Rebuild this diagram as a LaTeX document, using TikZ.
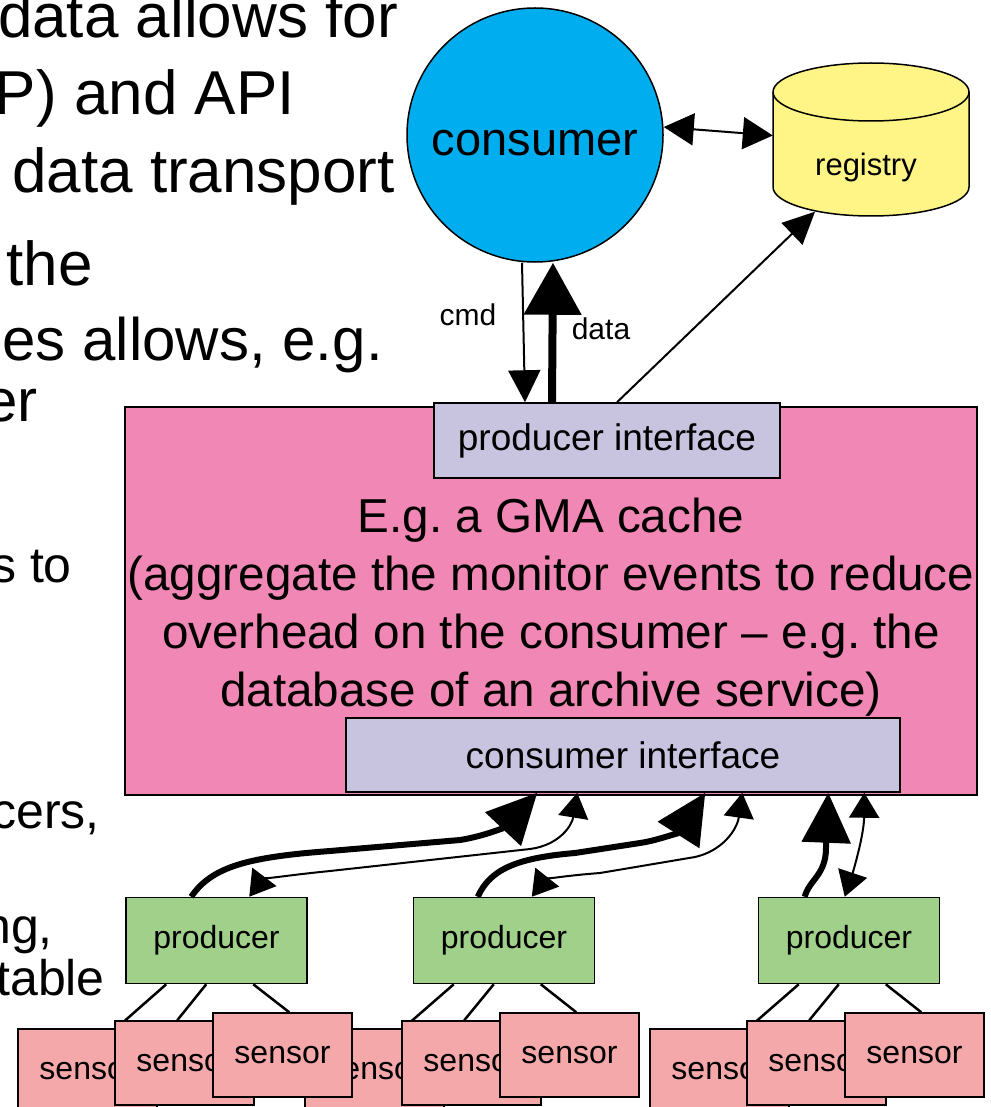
\documentclass[tikz,border=0pt]{standalone}
\usepackage{fontspec}
\setmainfont{Liberation Sans}
\frenchspacing
\usetikzlibrary{arrows.meta,shapes.geometric}
\definecolor{cyanc}{RGB}{0,174,239}
\definecolor{regc}{RGB}{255,245,135}
\definecolor{pinkc}{RGB}{240,135,180}
\definecolor{lavc}{RGB}{200,196,224}
\definecolor{greenc}{RGB}{160,208,138}
\definecolor{sensc}{RGB}{245,168,170}
\tikzset{
  slidebig/.style={anchor=base east, inner sep=0pt, font=\fontsize{62}{74}\selectfont},
  slidemid/.style={anchor=base east, inner sep=0pt, font=\fontsize{60}{70}\selectfont},
  slidesmall/.style={anchor=base east, inner sep=0pt, font=\fontsize{50}{60}\selectfont},
  boxline/.style={draw=black, line width=1.5pt},
  iface/.style={boxline, rectangle, fill=lavc, inner sep=0pt, font=\fontsize{37}{42}\selectfont},
  prodbox/.style={boxline, rectangle, fill=greenc, inner sep=0pt, minimum width=181pt, minimum height=86pt, font=\fontsize{32}{36}\selectfont},
  sensbox/.style={boxline, rectangle, fill=sensc, inner sep=0pt, minimum width=139pt, minimum height=84pt, font=\fontsize{32}{36}\selectfont},
  thinarr/.style={line width=2pt, -{Triangle[length=32pt,width=32pt]}},
  thinboth/.style={line width=2pt, {Triangle[length=25pt,width=30pt]}-{Triangle[length=25pt,width=30pt]}},
  thickarr/.style={line width=6pt, -{Triangle[length=50pt,width=48pt]}},
  sensline/.style={line width=2.5pt},
  lbl/.style={inner sep=0pt, font=\fontsize{30}{36}\selectfont}
}
\begin{document}
\begin{tikzpicture}[x=1pt,y=-1pt]
\useasboundingbox (0,0) rectangle (990,1107);
\clip (0,0) rectangle (990,1107);
\fill[white] (0,0) rectangle (990,1107);

% slide text partly hidden at the left
\node[slidebig] (t1) at (398,38) {data allows for};
\node[slidebig] (t2) at (295,115) {P) and API};
\node[slidebig] (t3) at (395,193) {data transport};
\node[slidebig] (t4) at (93,285) {the};
\node[slidemid] (t5) at (383,360) {es allows, e.g.};
\node[slidemid] (t6) at (38,421) {er};
\node[slidesmall] (t7) at (72,582) {s to};
\node[slidesmall] (t8) at (100,828) {cers,};
\node[slidesmall] (t9) at (53,943) {ng,};
\node[slidesmall] (t10) at (105,995) {table};

% consumer
\node[ellipse, boxline, fill=cyanc, minimum width=256pt, minimum height=254pt, inner sep=0pt,
  label={[font=\fontsize{47}{54}\selectfont, yshift=-8pt]center:consumer}] (cons) at (535,135) {};

% registry cylinder
\fill[regc] (773,92) -- (773,187) arc[start angle=180,end angle=0,x radius=98,y radius=29] -- (969,92) -- cycle;
\draw[line width=1.5pt] (773,92) -- (773,187) arc[start angle=180,end angle=0,x radius=98,y radius=29] -- (969,92);
\filldraw[fill=regc, line width=1.5pt] (871,92) ellipse [x radius=98, y radius=29];
\node[inner sep=0pt, minimum width=196pt, minimum height=154pt] (reg) at (871,139.5) {};
\node[lbl, font=\fontsize{31}{36}\selectfont] (regtxt) at (866,167) {registry};

% cache box
\node[boxline, rectangle, fill=pinkc, minimum width=852pt, minimum height=388pt, inner sep=0pt] (cache) at (551,601) {};
\node[iface, minimum width=346pt, minimum height=75pt] (pi) at (607,440.5) {producer interface};
\node[iface, minimum width=554pt, minimum height=74pt] (ci) at (623,755) {consumer interface};
\node[align=center, inner sep=0pt, font=\fontsize{47.6}{58}\selectfont] (cachetxt) at (551,607)
  {E.g. a GMA cache\\(aggregate the monitor events to reduce\\overhead on the consumer -- e.g. the\\database of an archive service)};

% top connectors
\draw[thinarr] ([xshift=-13pt]cons.south) -- ([xshift=-82pt]pi.north);
\draw[line width=8pt, -{Triangle[length=52pt,width=56pt]}] ([xshift=-55pt]pi.north) -- ([xshift=18pt]cons.south);
\node[lbl] (cmdl) at (468,315) {cmd};
\node[lbl] (datal) at (601,329) {data};
\draw[line width=2pt, {Triangle[length=30pt,width=32pt]}-{Triangle[length=30pt,width=32pt]}] ([yshift=8pt]cons.east) -- ([yshift=4pt]reg.west);
\draw[line width=2pt, -{Triangle[length=32pt,width=30pt]}] ([xshift=10pt]pi.north) -- ([xshift=-56pt,yshift=5pt]reg.south);

% producers
\node[prodbox] (p1) at (216.5,940.5) {producer};
\node[prodbox] (p2) at (504,940.5) {producer};
\node[prodbox] (p3) at (849,940.5) {producer};

% sensors (back row first)
\node[sensbox] (s1a) at (87.5,1071) {sensor};
\node[sensbox] (s2a) at (374.5,1071) {sensor};
\node[sensbox] (s3a) at (719.5,1071) {sensor};
\foreach \p/\g in {p1/1,p2/2,p3/3}{
  \draw[sensline] ([xshift=41pt]\p.south west) -- ([xshift=99pt]s\g a.north west);
}
\node[sensbox] (s1b) at (184.5,1063) {sensor};
\node[sensbox] (s1c) at (282.5,1055) {sensor};
\node[sensbox] (s2b) at (471.5,1063) {sensor};
\node[sensbox] (s2c) at (569.5,1055) {sensor};
\node[sensbox] (s3b) at (816.5,1063) {sensor};
\node[sensbox] (s3c) at (914.5,1055) {sensor};
\foreach \p/\g in {p1/1,p2/2,p3/3}{
  \draw[sensline] ([xshift=81pt]\p.south west) -- ([xshift=63pt]s\g b.north west);
  \draw[sensline] ([xshift=128pt]\p.south west) -- ([xshift=77pt]s\g c.north west);
}

% producer -> consumer interface
\draw[thickarr] ([xshift=66pt]p1.north west) .. controls (212,866) and (250,857) .. (330,851) -- (460,840) .. controls (485,836) and (505,827) .. ([xshift=192pt]ci.south west);
\draw[thinboth] ([xshift=124pt]p1.north west) .. controls (262,880) and (280,876) .. (330,871) -- (530,849) .. controls (560,845) and (572,825) .. ([xshift=232pt]ci.south west);
\draw[thickarr] ([xshift=65pt]p2.north west) .. controls (490,870) and (515,858) .. (575,853) -- (640,843) .. controls (660,840) and (681,831) .. ([xshift=360pt]ci.south west);
\draw[thinboth] ([xshift=119pt]p2.north west) .. controls (545,880) and (560,876) .. (600,873) -- (695,857) .. controls (722,851) and (737,830) .. ([xshift=397pt]ci.south west);
\draw[thickarr] ([xshift=47pt]p3.north west) .. controls (809,880) and (826,875) .. (826,848) -- ([xshift=483pt]ci.south west);
\draw[thinboth] ([xshift=87pt]p3.north west) .. controls (853,872) and (864,835) .. ([xshift=519pt]ci.south west);
\end{tikzpicture}
\end{document}
